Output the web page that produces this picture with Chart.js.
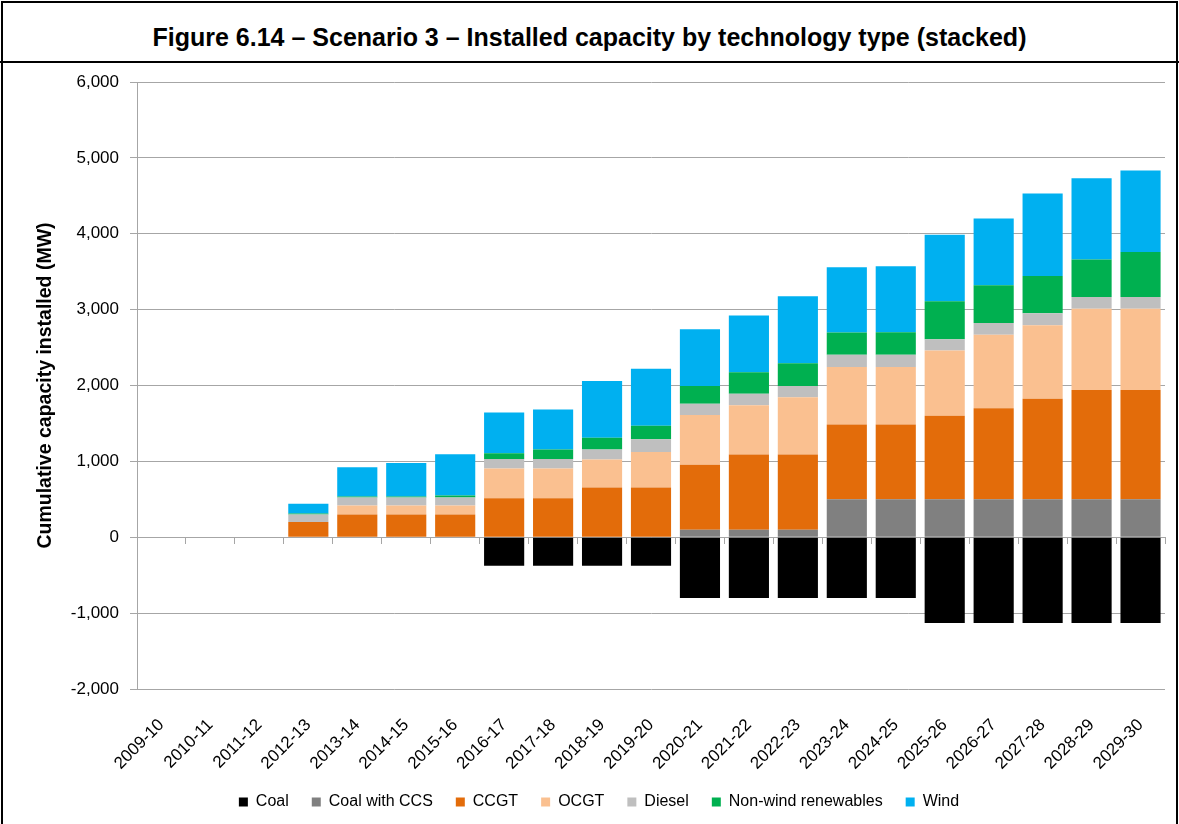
<!DOCTYPE html>
<html><head><meta charset="utf-8">
<script src="https://cdn.jsdelivr.net/npm/chart.js@4/dist/chart.umd.min.js"></script>
<style>
html,body{margin:0;padding:0;background:#fff;width:1179px;height:824px;overflow:hidden;}
#frame{position:absolute;left:1px;top:1px;width:1177px;height:900px;border:2px solid #000;box-sizing:border-box;}
#title{position:absolute;left:0;top:0;width:1179px;height:63px;border-bottom:2px solid #000;box-sizing:border-box;
 display:flex;align-items:center;justify-content:center;padding-top:13px;
 font-family:"Liberation Sans",Arial,sans-serif;font-weight:bold;font-size:25px;color:#000;}
#wrap{position:absolute;left:3px;top:64px;width:1172px;height:760px;}
</style></head>
<body>
<div id="frame"></div>
<div id="title">Figure 6.14 – Scenario 3 – Installed capacity by technology type (stacked)</div>
<div id="wrap"><canvas id="c" width="1172" height="760"></canvas></div>
<script>
const categories = ['2009-10','2010-11','2011-12','2012-13','2013-14','2014-15','2015-16','2016-17','2017-18','2018-19','2019-20','2020-21','2021-22','2022-23','2023-24','2024-25','2025-26','2026-27','2027-28','2028-29','2029-30'];
const coal      = [0,0,0,0,0,0,0,-375,-375,-375,-375,-800,-800,-800,-800,-800,-1130,-1130,-1130,-1130,-1130];
const coalCCS   = [0,0,0,0,0,0,0,0,0,0,0,100,100,100,500,500,500,500,500,500,500];
const ccgt      = [0,0,0,200,300,300,300,515,515,655,655,855,990,990,985,985,1100,1200,1325,1440,1440];
const ocgt      = [0,0,0,0,120,120,120,390,390,370,470,655,650,755,760,760,860,970,970,1070,1070];
const diesel    = [0,0,0,100,105,105,105,127,127,132,165,150,150,150,160,160,150,155,158,155,155];
const nonWind   = [0,0,0,12,13,13,26,75,124,153,179,233,286,299,294,296,502,497,489,497,594];
const wind      = [0,0,0,130,386,442,542,537,528,748,753,748,748,881,860,871,876,879,1087,1070,1074];
const seriesNames = ['Coal','Coal with CCS','CCGT','OCGT','Diesel','Non-wind renewables','Wind'];
const seriesColors = ['#000000','#808080','#E36C0A','#FAC090','#BFBFBF','#00B050','#00B0F0'];
const seriesData = [coal,coalCCS,ccgt,ocgt,diesel,nonWind,wind];

const FONT = '"Liberation Sans", Arial, sans-serif';
const GRID = '#a6a6a6';

const datasets = seriesNames.map((n,i)=>({
  label:n, data:seriesData[i], backgroundColor:seriesColors[i], borderWidth:0,
  barPercentage:0.82, categoryPercentage:1.0, xAxisID:'x', yAxisID:'y'
}));

new Chart(document.getElementById('c'),{
  type:'bar',
  data:{labels:categories, datasets},
  options:{
    responsive:false, animation:false, devicePixelRatio:1,
    layout:{padding:{top:18,right:10,bottom:4,left:30}},
    plugins:{
      legend:{position:'bottom',
        labels:{boxWidth:9,boxHeight:9,padding:23,color:'#000',font:{family:FONT,size:16}}},
      tooltip:{enabled:false}
    },
    scales:{
      x:{type:'category',position:{y:0},stacked:true,offset:true,
        grid:{display:true,drawOnChartArea:false,drawTicks:true,tickLength:6,color:GRID,offset:true},
        border:{display:true,color:GRID,width:1},
        ticks:{display:false}},
      x2:{type:'category',position:'bottom',offset:true,
        grid:{display:false,drawTicks:false},border:{display:false},
        ticks:{maxRotation:45,minRotation:45,padding:26,color:'#000',font:{family:FONT,size:17}},
        afterFit(s){s.height=82;s.paddingRight=0;s.paddingLeft=0;}},
      y:{stacked:true,min:-2000,max:6000,
        ticks:{stepSize:1000,padding:11,color:'#000',font:{family:FONT,size:17},
          callback:v=>v.toLocaleString('en-US')},
        grid:{color:GRID,tickLength:7,drawTicks:true},
        border:{color:GRID},
        title:{display:true,text:'Cumulative capacity installed (MW)',color:'#000',
          font:{family:FONT,size:19.5,weight:'bold'},padding:{top:1,bottom:0}},
        afterFit(s){s.width=104;s.paddingTop=0;s.paddingBottom=0;}}
    }
  }
});
</script>
</body></html>
